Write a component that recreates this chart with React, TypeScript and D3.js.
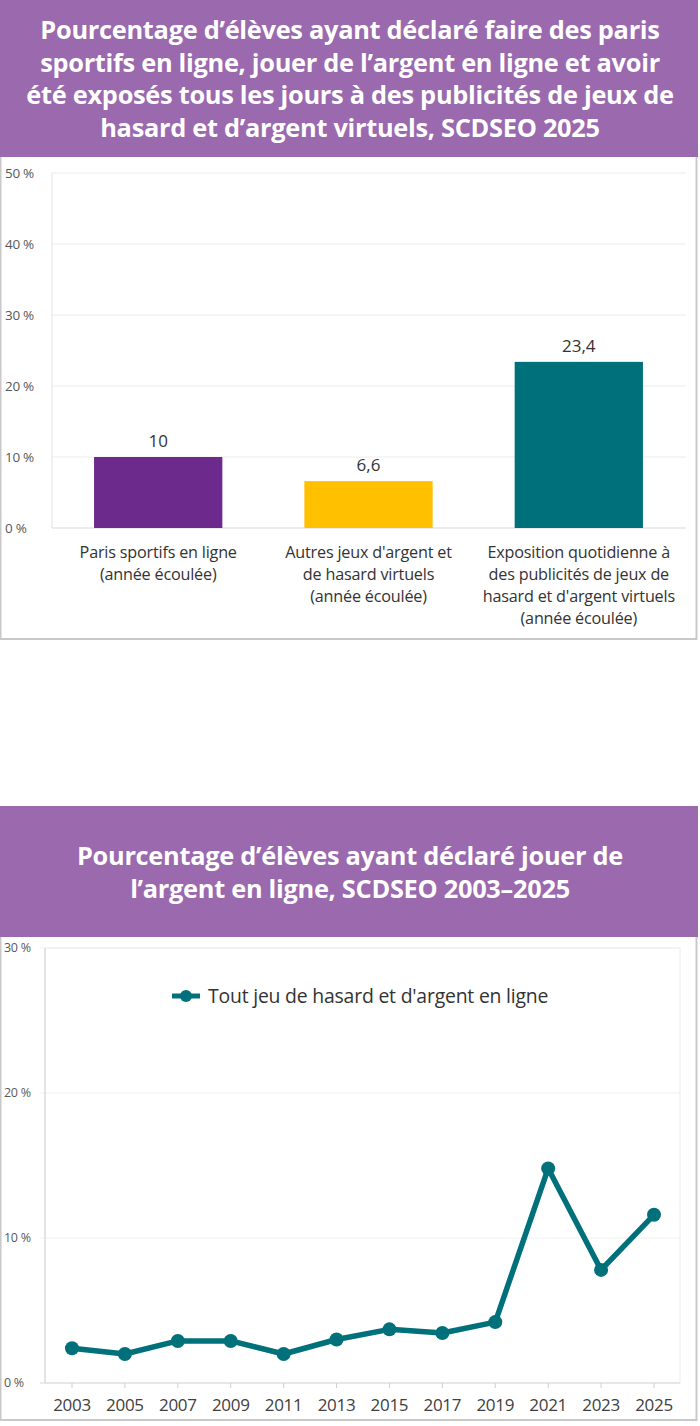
import React from "react";
import * as d3 from "d3";

const barCategories: string[][] = [
  ["Paris sportifs en ligne", "(année écoulée)"],
  ["Autres jeux d'argent et", "de hasard virtuels", "(année écoulée)"],
  ["Exposition quotidienne à", "des publicités de jeux de", "hasard et d'argent virtuels", "(année écoulée)"],
];
const barValues: number[] = [10, 6.6, 23.4];
const barLabels: string[] = ["10", "6,6", "23,4"];
const barColors: string[] = ["#6b2a8c", "#ffc000", "#00717a"];
const barTicks: number[] = [0, 10, 20, 30, 40, 50];

const years: string[] = ["2003", "2005", "2007", "2009", "2011", "2013", "2015", "2017", "2019", "2021", "2023", "2025"];
const onlineValues: number[] = [2.4, 2.0, 2.9, 2.9, 2.0, 3.0, 3.7, 3.45, 4.2, 14.8, 7.8, 11.6];
const lineTicks: number[] = [0, 10, 20, 30];
const legendLabel = "Tout jeu de hasard et d'argent en ligne";

const title1: string[] = [
  "Pourcentage d’élèves ayant déclaré faire des paris",
  "sportifs en ligne, jouer de l’argent en ligne et avoir",
  "été exposés tous les jours à des publicités de jeux de",
  "hasard et d’argent virtuels, SCDSEO 2025",
];
const title2: string[] = [
  "Pourcentage d’élèves ayant déclaré jouer de",
  "l’argent en ligne, SCDSEO 2003–2025",
];

const PURPLE = "#9a69ae";
const TEAL = "#00717a";
const FONT = "'Open Sans', sans-serif";

export default function App() {
  // Bar chart scales
  const bx = d3.scaleBand<number>().domain(d3.range(barValues.length)).range([52, 685]).paddingInner(0.39).paddingOuter(0.2);
  const by = d3.scaleLinear().domain([0, 50]).range([528, 173]);

  // Line chart scales
  const lx = d3.scalePoint<string>().domain(years).range([72, 654]);
  const ly = d3.scaleLinear().domain([0, 30]).range([1383, 948]);
  const line = d3.line<number>().x((_, i) => lx(years[i])!).y((d) => ly(d));

  return (
    <svg width={700} height={1426} style={{ position: "absolute", left: 0, top: 0, background: "#fff" }} fontFamily={FONT}>
      {/* Chart 1 frame */}
      <rect x={0.5} y={150} width={696} height={489} fill="#fff" stroke="#c8c8c8" strokeWidth={2} />
      <rect x={0} y={0} width={698} height={157} fill={PURPLE} />
      {title1.map((t, i) => (
        <text key={i} x={350} y={39 + i * 32.5} textAnchor="middle" fill="#fff" fontSize={25.4} fontWeight={700} letterSpacing={-0.3}>
          {t}
        </text>
      ))}
      {/* Gridlines & y ticks */}
      {barTicks.map((t) => (
        <g key={t}>
          <line x1={52} x2={686} y1={by(t)} y2={by(t)} stroke={t === 0 ? "#d9d9d9" : "#ececec"} strokeWidth={1} />
          <text x={5} y={by(t) + 4.5} fontSize={13.5} fill="#595959" letterSpacing={-0.3}>
            {t} %
          </text>
        </g>
      ))}
      <line x1={52} x2={52} y1={173} y2={528} stroke="#e3e3e3" />
      {barValues.map((v, i) => (
        <g key={i}>
          <rect x={bx(i)!} y={by(v)} width={bx.bandwidth()} height={by(0) - by(v)} fill={barColors[i]} />
          <text x={bx(i)! + bx.bandwidth() / 2} y={by(v) - 10} textAnchor="middle" fontSize={17} fill="#333">
            {barLabels[i]}
          </text>
          {barCategories[i].map((l, j) => (
            <text key={j} x={bx(i)! + bx.bandwidth() / 2} y={558 + j * 22} textAnchor="middle" fontSize={16.2} fill="#333" letterSpacing={-0.2}>
              {l}
            </text>
          ))}
        </g>
      ))}

      {/* Chart 2 frame */}
      <rect x={0.5} y={930} width={696} height={490} fill="#fff" stroke="#c8c8c8" strokeWidth={2} />
      <rect x={0} y={806} width={698} height={131} fill={PURPLE} />
      {title2.map((t, i) => (
        <text key={i} x={350} y={865 + i * 32.5} textAnchor="middle" fill="#fff" fontSize={25.4} fontWeight={700} letterSpacing={-0.3}>
          {t}
        </text>
      ))}
      <rect x={45} y={948} width={635} height={435} fill="none" stroke="#ececec" />
      {lineTicks.map((t) => (
        <g key={t}>
          <line x1={40} x2={680} y1={ly(t)} y2={ly(t)} stroke={t === 0 ? "#d9d9d9" : "#f0f0f0"} />
          <text x={4} y={ly(t) + 4} fontSize={12.5} fill="#595959" letterSpacing={-0.3}>
            {t} %
          </text>
        </g>
      ))}
      <line x1={45} x2={45} y1={948} y2={1383} stroke="#dedede" strokeWidth={1.5} />
      {years.map((y) => (
        <g key={y}>
          <line x1={lx(y)!} x2={lx(y)!} y1={1383} y2={1388} stroke="#d0d0d0" />
          <text x={lx(y)!} y={1411} textAnchor="middle" fontSize={17} fill="#404040" letterSpacing={-0.3}>
            {y}
          </text>
        </g>
      ))}
      <path d={line(onlineValues) || ""} fill="none" stroke={TEAL} strokeWidth={5.5} strokeLinejoin="round" />
      {onlineValues.map((v, i) => (
        <circle key={i} cx={lx(years[i])!} cy={ly(v)} r={7} fill={TEAL} />
      ))}
      {/* Legend */}
      <line x1={172} x2={200} y1={996} y2={996} stroke={TEAL} strokeWidth={5} />
      <circle cx={186} cy={996} r={6} fill={TEAL} />
      <text x={208} y={1002.5} fontSize={19.4} fill="#333" letterSpacing={-0.2}>
        {legendLabel}
      </text>
    </svg>
  );
}
